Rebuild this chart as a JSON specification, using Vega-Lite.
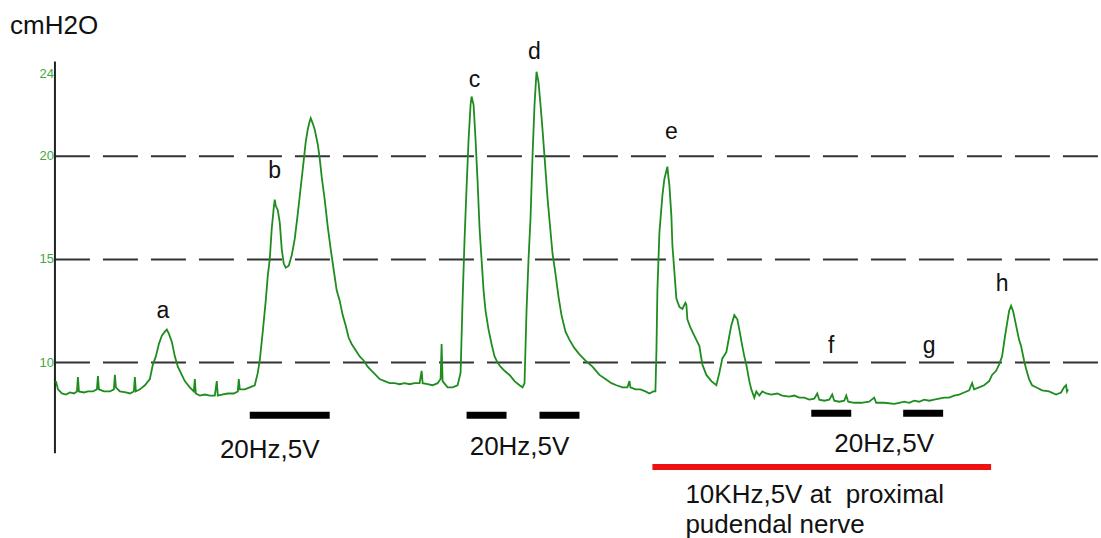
{
  "$schema": "https://vega.github.io/schema/vega-lite/v6.json",
  "width": 1101,
  "height": 538,
  "padding": 0,
  "autosize": {"type": "fit", "contains": "padding"},
  "background": "white",
  "config": {"view": {"stroke": null}, "font": "Liberation Sans"},
  "datasets": {
    "trace": [
      {"t":56,"v":9.1},{"t":58,"v":8.7},{"t":62,"v":8.5},{"t":66,"v":8.45},{"t":70,"v":8.55},{"t":74,"v":8.5},{"t":77,"v":8.6},{"t":78,"v":9.3},{"t":79,"v":8.6},{"t":84,"v":8.55},{"t":88,"v":8.6},{"t":93,"v":8.6},{"t":97,"v":8.7},{"t":98,"v":9.35},{"t":99,"v":8.7},{"t":104,"v":8.6},{"t":110,"v":8.6},{"t":114,"v":8.7},{"t":115,"v":9.4},{"t":116,"v":8.8},{"t":120,"v":8.6},{"t":126,"v":8.55},{"t":130,"v":8.5},{"t":134,"v":8.6},{"t":135,"v":9.3},{"t":136,"v":8.6},{"t":140,"v":8.7},{"t":145,"v":8.9},{"t":150,"v":9.2},{"t":153,"v":9.9},{"t":156,"v":10.3},{"t":159,"v":10.9},{"t":162,"v":11.3},{"t":165,"v":11.5},{"t":167,"v":11.6},{"t":169,"v":11.4},{"t":172,"v":11.0},{"t":175,"v":10.3},{"t":178,"v":9.8},{"t":181,"v":9.5},{"t":185,"v":9.1},{"t":190,"v":8.8},{"t":194,"v":8.6},{"t":195,"v":9.2},{"t":196,"v":8.5},{"t":200,"v":8.4},{"t":205,"v":8.45},{"t":210,"v":8.4},{"t":215,"v":8.4},{"t":217,"v":9.1},{"t":218,"v":8.4},{"t":222,"v":8.45},{"t":228,"v":8.5},{"t":234,"v":8.5},{"t":238,"v":8.6},{"t":239,"v":9.2},{"t":240,"v":8.7},{"t":245,"v":8.7},{"t":250,"v":8.8},{"t":255,"v":8.9},{"t":258,"v":9.5},{"t":260,"v":10.1},{"t":263,"v":11.5},{"t":266,"v":13.0},{"t":268,"v":14.2},{"t":270,"v":15.0},{"t":272,"v":16.5},{"t":274,"v":17.5},{"t":275,"v":17.9},{"t":276,"v":17.6},{"t":278,"v":17.4},{"t":280,"v":16.8},{"t":282,"v":15.5},{"t":284,"v":14.8},{"t":286,"v":14.6},{"t":289,"v":14.7},{"t":292,"v":15.2},{"t":295,"v":16.0},{"t":298,"v":17.2},{"t":301,"v":18.5},{"t":304,"v":19.8},{"t":306,"v":20.7},{"t":308,"v":21.3},{"t":310,"v":21.7},{"t":311,"v":21.85},{"t":313,"v":21.6},{"t":315,"v":21.3},{"t":318,"v":20.6},{"t":320,"v":19.9},{"t":322,"v":19.0},{"t":325,"v":17.9},{"t":328,"v":16.6},{"t":331,"v":15.5},{"t":334,"v":14.5},{"t":337,"v":13.5},{"t":340,"v":13.0},{"t":343,"v":12.3},{"t":346,"v":11.8},{"t":349,"v":11.2},{"t":352,"v":10.9},{"t":356,"v":10.6},{"t":360,"v":10.3},{"t":364,"v":10.1},{"t":368,"v":9.8},{"t":372,"v":9.6},{"t":376,"v":9.4},{"t":380,"v":9.2},{"t":385,"v":9.1},{"t":390,"v":9.0},{"t":395,"v":9.0},{"t":400,"v":8.95},{"t":405,"v":9.0},{"t":410,"v":8.95},{"t":415,"v":9.0},{"t":420,"v":9.0},{"t":422,"v":9.6},{"t":423,"v":9.0},{"t":428,"v":8.95},{"t":433,"v":8.9},{"t":438,"v":9.0},{"t":441,"v":9.2},{"t":442,"v":10.9},{"t":443,"v":9.1},{"t":448,"v":8.8},{"t":453,"v":8.8},{"t":458,"v":8.9},{"t":461,"v":9.5},{"t":463,"v":13.0},{"t":465,"v":16.0},{"t":467,"v":18.5},{"t":469,"v":20.8},{"t":471,"v":22.5},{"t":472,"v":22.9},{"t":474,"v":22.5},{"t":476,"v":20.8},{"t":478,"v":18.8},{"t":480,"v":16.5},{"t":482,"v":15.0},{"t":484,"v":13.5},{"t":486,"v":12.5},{"t":489,"v":11.6},{"t":492,"v":10.9},{"t":495,"v":10.3},{"t":498,"v":10.0},{"t":501,"v":9.8},{"t":505,"v":9.6},{"t":510,"v":9.4},{"t":515,"v":9.1},{"t":520,"v":8.9},{"t":523,"v":8.8},{"t":525,"v":9.0},{"t":527,"v":12.5},{"t":529,"v":15.0},{"t":531,"v":17.0},{"t":533,"v":20.0},{"t":535,"v":22.5},{"t":537,"v":24.1},{"t":539,"v":23.6},{"t":541,"v":22.5},{"t":543,"v":21.3},{"t":545,"v":20.0},{"t":548,"v":18.0},{"t":550,"v":16.9},{"t":553,"v":15.3},{"t":556,"v":14.3},{"t":559,"v":13.2},{"t":562,"v":12.3},{"t":566,"v":11.5},{"t":570,"v":11.1},{"t":575,"v":10.7},{"t":580,"v":10.4},{"t":587,"v":10.05},{"t":593,"v":9.8},{"t":600,"v":9.4},{"t":606,"v":9.2},{"t":612,"v":9.0},{"t":617,"v":8.9},{"t":623,"v":8.8},{"t":628,"v":8.8},{"t":630,"v":9.1},{"t":631,"v":8.8},{"t":636,"v":8.7},{"t":641,"v":8.7},{"t":646,"v":8.6},{"t":650,"v":8.5},{"t":654,"v":8.6},{"t":656,"v":8.6},{"t":657,"v":10.5},{"t":658,"v":13.5},{"t":660,"v":16.3},{"t":663,"v":18.1},{"t":665,"v":18.9},{"t":667,"v":19.3},{"t":668,"v":19.5},{"t":669,"v":19.0},{"t":670,"v":18.6},{"t":672,"v":17.1},{"t":673,"v":15.7},{"t":675,"v":14.4},{"t":677,"v":13.1},{"t":680,"v":12.7},{"t":683,"v":12.6},{"t":686,"v":12.9},{"t":687,"v":12.8},{"t":688,"v":12.1},{"t":691,"v":11.7},{"t":693,"v":11.5},{"t":697,"v":11.1},{"t":700,"v":10.8},{"t":703,"v":9.9},{"t":707,"v":9.4},{"t":712,"v":9.1},{"t":717,"v":8.9},{"t":720,"v":9.5},{"t":723,"v":10.2},{"t":727,"v":10.5},{"t":730,"v":11.3},{"t":732,"v":11.8},{"t":735,"v":12.3},{"t":738,"v":12.1},{"t":740,"v":11.6},{"t":743,"v":10.8},{"t":745,"v":10.3},{"t":747,"v":9.9},{"t":750,"v":9.1},{"t":752,"v":8.7},{"t":755,"v":8.3},{"t":757,"v":8.6},{"t":760,"v":8.4},{"t":763,"v":8.6},{"t":767,"v":8.5},{"t":772,"v":8.45},{"t":778,"v":8.5},{"t":783,"v":8.4},{"t":790,"v":8.35},{"t":795,"v":8.4},{"t":800,"v":8.3},{"t":805,"v":8.3},{"t":810,"v":8.2},{"t":815,"v":8.25},{"t":818,"v":8.5},{"t":820,"v":8.2},{"t":825,"v":8.15},{"t":830,"v":8.2},{"t":833,"v":8.45},{"t":835,"v":8.15},{"t":840,"v":8.1},{"t":845,"v":8.15},{"t":847,"v":8.4},{"t":849,"v":8.1},{"t":855,"v":8.05},{"t":862,"v":8.05},{"t":870,"v":8.1},{"t":875,"v":8.3},{"t":877,"v":8.05},{"t":885,"v":8.05},{"t":895,"v":8.0},{"t":900,"v":8.05},{"t":905,"v":8.1},{"t":910,"v":8.05},{"t":915,"v":8.15},{"t":920,"v":8.1},{"t":925,"v":8.2},{"t":930,"v":8.15},{"t":935,"v":8.2},{"t":940,"v":8.25},{"t":945,"v":8.3},{"t":950,"v":8.3},{"t":955,"v":8.4},{"t":960,"v":8.45},{"t":965,"v":8.55},{"t":970,"v":8.65},{"t":973,"v":9.0},{"t":975,"v":8.7},{"t":980,"v":8.8},{"t":985,"v":8.9},{"t":990,"v":9.1},{"t":993,"v":9.4},{"t":997,"v":9.6},{"t":1000,"v":9.9},{"t":1003,"v":10.3},{"t":1006,"v":11.3},{"t":1008,"v":11.9},{"t":1010,"v":12.5},{"t":1012,"v":12.75},{"t":1014,"v":12.5},{"t":1017,"v":11.8},{"t":1020,"v":11.1},{"t":1022,"v":10.8},{"t":1025,"v":10.1},{"t":1027,"v":9.7},{"t":1030,"v":9.2},{"t":1033,"v":8.9},{"t":1037,"v":8.8},{"t":1043,"v":8.65},{"t":1050,"v":8.6},{"t":1057,"v":8.45},{"t":1062,"v":8.55},{"t":1065,"v":8.8},{"t":1067,"v":8.9},{"t":1068,"v":8.6},{"t":1069,"v":8.7}
    ],
    "grid": [
      {"v":10,"t1":55,"t2":1101},{"v":15,"t1":55,"t2":1101},{"v":20,"t1":55,"t2":1101}
    ],
    "ticks": [
      {"v":24,"t":54,"label":"24"},{"v":20,"t":54,"label":"20"},{"v":15,"t":54,"label":"15"},{"v":10,"t":54,"label":"10"}
    ],
    "axisline": [{"t":55,"v1":5.6,"v2":24.6}],
    "bars": [
      {"t1":250,"t2":330,"v":7.44,"kind":"20 Hz stimulation"},
      {"t1":467,"t2":507,"v":7.44,"kind":"20 Hz stimulation"},
      {"t1":540,"t2":580,"v":7.44,"kind":"20 Hz stimulation"},
      {"t1":812,"t2":852,"v":7.54,"kind":"20 Hz stimulation"},
      {"t1":904,"t2":944,"v":7.54,"kind":"20 Hz stimulation"},
      {"t1":653,"t2":992,"v":4.93,"kind":"10 kHz block"}
    ],
    "letters": [
      {"t":163,"v":12.5,"label":"a"},{"t":275,"v":19.3,"label":"b"},{"t":475,"v":23.7,"label":"c"},{"t":535,"v":25.05,"label":"d"},{"t":672,"v":21.2,"label":"e"},{"t":832,"v":10.82,"label":"f"},{"t":930,"v":10.82,"label":"g"},{"t":1003,"v":13.8,"label":"h"}
    ],
    "centerNotes": [
      {"t":270,"v":5.75,"label":"20Hz,5V"},{"t":520,"v":5.89,"label":"20Hz,5V"},{"t":885,"v":6.04,"label":"20Hz,5V"}
    ],
    "leftNotes": [
      {"t":686,"v":3.57,"label":"10KHz,5V at\u00a0 proximal"},{"t":686,"v":2.13,"label":"pudendal nerve"},{"t":10,"v":26.3,"label":"cmH2O"}
    ]
  },
  "layer": [
    {
      "data": {"name": "grid"},
      "mark": {"type": "rule", "color": "#333333", "strokeWidth": 2, "strokeDash": [35, 13]},
      "encoding": {
        "y": {"field": "v", "type": "quantitative", "scale": {"domain": [1.59, 27.58], "nice": false, "zero": false}, "axis": null},
        "x": {"field": "t1", "type": "quantitative", "scale": {"domain": [0, 1101], "nice": false, "zero": false}, "axis": null},
        "x2": {"field": "t2"}
      }
    },
    {
      "data": {"name": "axisline"},
      "mark": {"type": "rule", "color": "#222222", "strokeWidth": 2},
      "encoding": {
        "x": {"field": "t", "type": "quantitative"},
        "y": {"field": "v1", "type": "quantitative"},
        "y2": {"field": "v2"}
      }
    },
    {
      "data": {"name": "ticks"},
      "mark": {"type": "text", "color": "#43a843", "fontSize": 13, "align": "right", "baseline": "middle"},
      "encoding": {
        "x": {"field": "t", "type": "quantitative"},
        "y": {"field": "v", "type": "quantitative"},
        "text": {"field": "label"}
      }
    },
    {
      "data": {"name": "trace"},
      "mark": {"type": "line", "color": "#1f8c1f", "strokeWidth": 1.8, "interpolate": "linear"},
      "encoding": {
        "x": {"field": "t", "type": "quantitative"},
        "y": {"field": "v", "type": "quantitative"}
      }
    },
    {
      "data": {"name": "bars"},
      "mark": {"type": "rule", "strokeCap": "butt"},
      "encoding": {
        "x": {"field": "t1", "type": "quantitative"},
        "x2": {"field": "t2"},
        "y": {"field": "v", "type": "quantitative"},
        "color": {"field": "kind", "type": "nominal", "scale": {"domain": ["20 Hz stimulation", "10 kHz block"], "range": ["#000000", "#ee1111"]}, "legend": null},
        "strokeWidth": {"field": "kind", "type": "nominal", "scale": {"domain": ["20 Hz stimulation", "10 kHz block"], "range": [7, 6]}, "legend": null}
      }
    },
    {
      "data": {"name": "letters"},
      "mark": {"type": "text", "fontSize": 23, "color": "#111111", "align": "center", "baseline": "middle"},
      "encoding": {
        "x": {"field": "t", "type": "quantitative"},
        "y": {"field": "v", "type": "quantitative"},
        "text": {"field": "label"}
      }
    },
    {
      "data": {"name": "centerNotes"},
      "mark": {"type": "text", "fontSize": 26, "color": "#111111", "align": "center", "baseline": "middle"},
      "encoding": {
        "x": {"field": "t", "type": "quantitative"},
        "y": {"field": "v", "type": "quantitative"},
        "text": {"field": "label"}
      }
    },
    {
      "data": {"name": "leftNotes"},
      "mark": {"type": "text", "fontSize": 26, "color": "#111111", "align": "left", "baseline": "middle"},
      "encoding": {
        "x": {"field": "t", "type": "quantitative"},
        "y": {"field": "v", "type": "quantitative"},
        "text": {"field": "label"}
      }
    }
  ]
}
